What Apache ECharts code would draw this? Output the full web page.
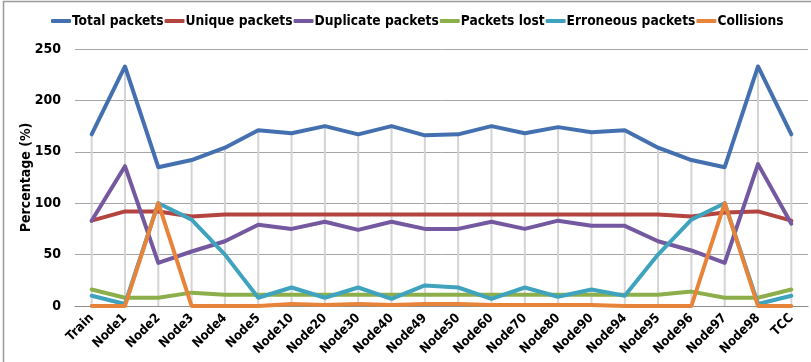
<!DOCTYPE html>
<html>
<head>
<meta charset="utf-8">
<script src="https://cdn.jsdelivr.net/npm/echarts@6/dist/echarts.min.js"></script>
<style>
  html, body { margin: 0; padding: 0; background: #ffffff; }
  #chart { width: 811px; height: 362px; }
</style>
</head>
<body>
<div id="chart"></div>
<script>
// Packet statistics per node, in percent
const categories = ['Train', 'Node1', 'Node2', 'Node3', 'Node4', 'Node5', 'Node10', 'Node20', 'Node30', 'Node40',
  'Node49', 'Node50', 'Node60', 'Node70', 'Node80', 'Node90', 'Node94', 'Node95', 'Node96', 'Node97', 'Node98', 'TCC'];

const totalPackets     = [167, 233, 135, 142, 154, 171, 168, 175, 167, 175, 166, 167, 175, 168, 174, 169, 171, 154, 142, 135, 233, 167];
const uniquePackets    = [83, 92, 92, 87, 89, 89, 89, 89, 89, 89, 89, 89, 89, 89, 89, 89, 89, 89, 87, 91, 92, 83];
const duplicatePackets = [83, 136, 42, 53, 63, 79, 75, 82, 74, 82, 75, 75, 82, 75, 83, 78, 78, 63, 54, 42, 138, 80];
const packetsLost      = [16, 8, 8, 13, 11, 11, 11, 11, 11, 11, 11, 11, 11, 11, 11, 11, 11, 11, 14, 8, 8, 16];
const erroneousPackets = [10, 2, 100, 84, 50, 8, 18, 8, 18, 7, 20, 18, 7, 18, 9, 16, 10, 50, 84, 100, 2, 10];
const collisions       = [0, 0, 100, 0, 0, 0, 2, 1, 2, 1, 2, 2, 1, 1, 1, 1, 0, 0, 0, 100, 0, 0];

const yTicks = { min: 0, max: 250, step: 50 };

const seriesNames = ['Total packets', 'Unique packets', 'Duplicate packets', 'Packets lost', 'Erroneous packets', 'Collisions'];
const seriesData = [totalPackets, uniquePackets, duplicatePackets, packetsLost, erroneousPackets, collisions];
const colors = ['#4470B0', '#B4443F', '#7458A0', '#8CAF4C', '#3FA3BD', '#E8843A'];

const fontFamily = '"Liberation Sans Narrow", "DejaVu Sans Condensed", "Liberation Sans", sans-serif';

// high-low lines span from the lowest to the highest value at each category
const highValues = categories.map((_, i) => Math.max(...seriesData.map(s => s[i])));

const chart = echarts.init(document.getElementById('chart'), null, { renderer: 'canvas' });

const lineSeries = seriesNames.map((name, k) => ({
  name: name,
  type: 'line',
  data: seriesData[k],
  showSymbol: false,
  symbol: 'none',
  lineStyle: { width: 4, color: colors[k], cap: 'round', join: 'round' },
  itemStyle: { color: colors[k] },
  z: 3 + k,
  animation: false
}));

chart.setOption({
  animation: false,
  textStyle: { fontFamily: fontFamily },
  graphic: [{
    type: 'rect',
    shape: { x: 3.5, y: 1.5, width: 830, height: 420 },
    style: { fill: 'none', stroke: '#9a9a9a', lineWidth: 1.5 },
    silent: true,
    z: 0
  }],
  legend: {
    data: seriesNames,
    top: 9,
    left: 46,
    itemGap: 1,
    itemWidth: 20,
    itemHeight: 4,
    icon: 'roundRect',
    textStyle: { fontFamily: fontFamily, fontWeight: 'bold', fontSize: 13.7, color: '#000000', padding: [0, 0, 0, -4] }
  },
  grid: { left: 75, right: 3, top: 49, bottom: 56, containLabel: false },
  xAxis: {
    type: 'category',
    data: categories,
    boundaryGap: true,
    axisLine: { show: true, lineStyle: { color: '#8c8c8c', width: 1 } },
    axisTick: { show: false },
    axisLabel: {
      rotate: 45,
      interval: 0,
      margin: 10,
      fontFamily: fontFamily,
      fontWeight: 'bold',
      fontSize: 13,
      color: '#000000'
    },
    splitLine: { show: false }
  },
  yAxis: {
    type: 'value',
    min: yTicks.min,
    max: yTicks.max,
    interval: yTicks.step,
    name: 'Percentage (%)',
    nameLocation: 'middle',
    nameGap: 42,
    nameRotate: 90,
    nameMoveOverlap: false,
    nameTextStyle: { fontFamily: fontFamily, fontWeight: 'bold', fontSize: 14, color: '#000000' },
    axisLine: { show: false },
    axisTick: { show: false },
    axisLabel: { fontFamily: fontFamily, fontWeight: 'bold', fontSize: 14, color: '#000000', margin: 14 },
    splitLine: { show: true, lineStyle: { color: '#a6a6a6', width: 1 } }
  },
  series: [{
    name: 'hiLo',
    type: 'bar',
    data: highValues,
    barWidth: 2,
    itemStyle: { color: '#d4d4d4' },
    silent: true,
    z: 1
  }].concat(lineSeries)
});
</script>
</body>
</html>
